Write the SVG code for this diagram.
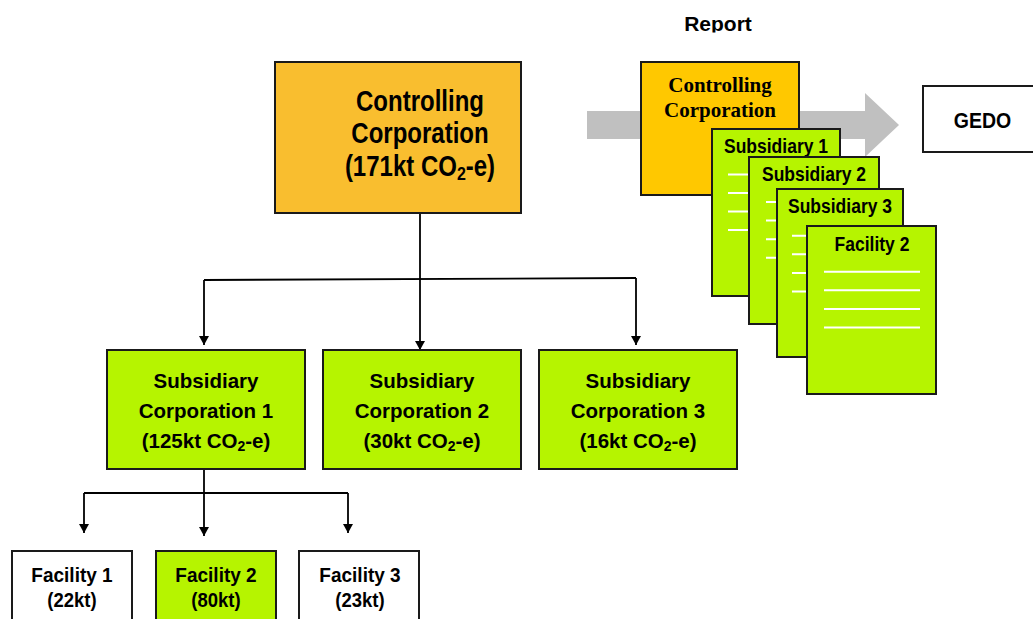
<svg xmlns="http://www.w3.org/2000/svg" width="1033" height="619" viewBox="0 0 1033 619">
  <style>
    .sans { font-family: "Liberation Sans", Arial, sans-serif; font-weight: bold; fill: #000; text-anchor: middle; }
    .serif { font-family: "Liberation Serif", "Times New Roman", serif; font-weight: bold; fill: #000; text-anchor: middle; }
    .box { stroke: #1a1a1a; stroke-width: 2; }
    .lime { fill: #B6F400; }
    .white { fill: #FFFFFF; }
    .page-line { stroke: #FFFFFF; stroke-width: 2; }
    .wire { fill: none; stroke: #000; stroke-width: 1.8; }
  </style>
  <defs>
    <marker id="arrow" markerUnits="userSpaceOnUse" markerWidth="10" markerHeight="10" refX="9" refY="5" orient="auto">
      <path d="M0,0 L9,5 L0,10 Z" fill="#000"/>
    </marker>
    <clipPath id="report-clip">
      <rect x="600" y="0" width="250" height="32.5"/>
    </clipPath>
  </defs>
  <rect width="1033" height="619" fill="#FFFFFF"/>

  <!-- Connectors -->
  <g id="connectors">
    <path class="wire" d="M420,213 V350" marker-end="url(#arrow)"/>
    <path class="wire" d="M204,280 L636,278"/>
    <path class="wire" d="M204,280 V345" marker-end="url(#arrow)"/>
    <path class="wire" d="M636,278 V345" marker-end="url(#arrow)"/>
    <path class="wire" d="M204,469 V536" marker-end="url(#arrow)"/>
    <path class="wire" d="M84,493 H348"/>
    <path class="wire" d="M84,493 V533" marker-end="url(#arrow)"/>
    <path class="wire" d="M348,493 V533" marker-end="url(#arrow)"/>
  </g>

  <!-- Controlling corporation -->
  <g id="controlling">
    <rect class="box" x="275" y="62" width="246" height="151" fill="#F9BE2F"/>
    <text class="sans" font-size="24" transform="translate(420 111) scale(1 1.2)">Controlling</text>
    <text class="sans" font-size="24" transform="translate(420 143) scale(1 1.2)">Corporation</text>
    <text class="sans" font-size="24" transform="translate(420 176) scale(1 1.2)">(171kt CO<tspan font-size="16" dy="3">2</tspan><tspan dy="-3">-e)</tspan></text>
  </g>

  <!-- Subsidiary corporations -->
  <g id="subsidiary-1">
    <rect class="box lime" x="107" y="350" width="198" height="119"/>
    <text class="sans" font-size="20.5" x="206" y="388">Subsidiary</text>
    <text class="sans" font-size="20.5" x="206" y="418">Corporation 1</text>
    <text class="sans" font-size="20.5" x="206" y="448">(125kt CO<tspan font-size="14" dy="3">2</tspan><tspan dy="-3">-e)</tspan></text>
  </g>
  <g id="subsidiary-2">
    <rect class="box lime" x="323" y="350" width="198" height="119"/>
    <text class="sans" font-size="20.5" x="422" y="388">Subsidiary</text>
    <text class="sans" font-size="20.5" x="422" y="418">Corporation 2</text>
    <text class="sans" font-size="20.5" x="422" y="448">(30kt CO<tspan font-size="14" dy="3">2</tspan><tspan dy="-3">-e)</tspan></text>
  </g>
  <g id="subsidiary-3">
    <rect class="box lime" x="539" y="350" width="198" height="119"/>
    <text class="sans" font-size="20.5" x="638" y="388">Subsidiary</text>
    <text class="sans" font-size="20.5" x="638" y="418">Corporation 3</text>
    <text class="sans" font-size="20.5" x="638" y="448">(16kt CO<tspan font-size="14" dy="3">2</tspan><tspan dy="-3">-e)</tspan></text>
  </g>

  <!-- Facilities -->
  <g id="facility-1">
    <rect class="box white" x="12" y="551" width="120" height="90"/>
    <text class="sans" font-size="19" transform="translate(72 582) scale(1 1.1)">Facility 1</text>
    <text class="sans" font-size="18.5" transform="translate(72 607) scale(1 1.1)">(22kt)</text>
  </g>
  <g id="facility-2">
    <rect class="box lime" x="156" y="551" width="120" height="90"/>
    <text class="sans" font-size="19" transform="translate(216 582) scale(1 1.1)">Facility 2</text>
    <text class="sans" font-size="18.5" transform="translate(216 607) scale(1 1.1)">(80kt)</text>
  </g>
  <g id="facility-3">
    <rect class="box white" x="299" y="551" width="120" height="90"/>
    <text class="sans" font-size="19" transform="translate(360 582) scale(1 1.1)">Facility 3</text>
    <text class="sans" font-size="18.5" transform="translate(360 607) scale(1 1.1)">(23kt)</text>
  </g>

  <!-- Report bundle sent to GEDO -->
  <g id="report">
    <text class="sans" font-size="21" x="718" y="31" clip-path="url(#report-clip)">Report</text>
    <polygon points="587,111 865,111 865,93 899,125 865,157 865,139 587,139" fill="#C0C0C0"/>

    <g id="report-controlling">
      <rect class="box" x="641" y="62" width="158" height="133" fill="#FFC800"/>
      <text class="serif" font-size="21" x="720" y="92">Controlling</text>
      <text class="serif" font-size="21" x="720" y="117">Corporation</text>
    </g>
    <g id="report-subsidiary-1">
      <rect class="box lime" x="712" y="129" width="128" height="167"/>
      <text class="sans" font-size="17.5" transform="translate(776 153) scale(1 1.2)">Subsidiary 1</text>
      <path class="page-line" d="M728,174.5 H824 M728,193 H824 M728,211.5 H824 M728,230 H824"/>
    </g>
    <g id="report-subsidiary-2">
      <rect class="box lime" x="749" y="157" width="130" height="167"/>
      <text class="sans" font-size="17.5" transform="translate(814 180.5) scale(1 1.2)">Subsidiary 2</text>
      <path class="page-line" d="M766,202 H862 M766,220.6 H862 M766,239.2 H862 M766,257.8 H862"/>
    </g>
    <g id="report-subsidiary-3">
      <rect class="box lime" x="777" y="189" width="126" height="168"/>
      <text class="sans" font-size="17.5" transform="translate(840 213) scale(1 1.2)">Subsidiary 3</text>
      <path class="page-line" d="M792,235.7 H886 M792,254.3 H886 M792,272.9 H886 M792,291.5 H886"/>
    </g>
    <g id="report-facility-2">
      <rect class="box lime" x="807" y="226" width="129" height="168"/>
      <text class="sans" font-size="17.5" transform="translate(872 250.5) scale(1 1.2)">Facility 2</text>
      <path class="page-line" d="M824,271.7 H920 M824,290.3 H920 M824,308.9 H920 M824,327.5 H920"/>
    </g>
  </g>

  <!-- Regulator -->
  <g id="gedo">
    <rect class="box white" x="923" y="86" width="120" height="66"/>
    <text class="sans" font-size="19.5" transform="translate(982.5 128.3) scale(1 1.13)">GEDO</text>
  </g>
</svg>
